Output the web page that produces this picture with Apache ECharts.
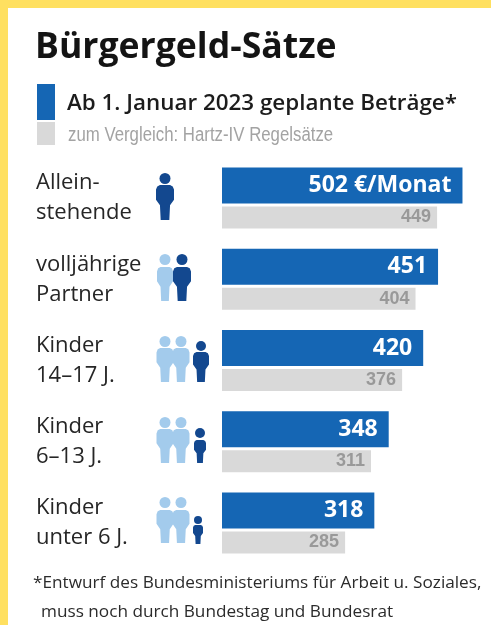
<!DOCTYPE html>
<html>
<head>
<meta charset="utf-8">
<style type="text/css">
    html,body{
        margin:0;
        padding:0;
        background:#fff;
    }
    #chart{
        width:491px;
        height:625px;
    }
</style>
<script src="https://cdn.jsdelivr.net/npm/echarts@6/dist/echarts.min.js"></script>
</head>
<body>
<div id="chart"></div>
<script type="text/javascript">
    var categories = ['Allein-\nstehende', 'volljährige\nPartner', 'Kinder\n14–17 J.', 'Kinder\n6–13 J.', 'Kinder\nunter 6 J.'];
    var newRates = [502, 451, 420, 348, 318];
    var oldRates = [449, 404, 376, 311, 285];
    // the source graphic draws its 285 bar shorter than the scale gives, so the length is kept apart from the label
    var oldBarLengths = [449, 404, 376, 311, 257];

    var FONT = '"Open Sans", "Noto Sans", sans-serif';
    var NARROW = '"Liberation Sans", sans-serif';
    var BLUE = '#1566b4', GREY = '#d9d9d9', LIGHT = '#a3cbec', DARK = '#13488f';
    // body outline in a 0..1 box: rounded shoulders, tapering to the feet
    var BODY = [[0.22,0],[0.78,0],[0.93,0.04],[1,0.13],[1,0.42],[0.78,0.58],[0.74,1],[0.26,1],[0.22,0.58],[0,0.42],[0,0.13],[0.07,0.04]];

    // one pictogram: head circle plus stretched body
    function person(cx, headTop, headH, bodyTop, bodyBottom, w, color){
        return [{
            type:'circle',
            shape:{cx:cx, cy:headTop + headH / 2, r:headH / 2},
            style:{fill:color}
        },{
            type:'polygon',
            shape:{points:BODY.map(function(p){
                return [cx - w / 2 + p[0] * w, bodyTop + p[1] * (bodyBottom - bodyTop)];
            })},
            style:{fill:color}
        }];
    }

    function text(x, y, str, font, color, scaleX){
        return {type:'text', x:x, y:y, scaleX:scaleX || 1, style:{text:str, font:font, fill:color, textVerticalAlign:'middle'}};
    }

    var icons = [].concat(
        person(165, 173, 11, 185, 220, 18, DARK),
        person(165, 254, 11, 267, 301, 16, LIGHT),
        person(182, 254, 11, 267, 301, 18, DARK),
        person(165, 336, 11, 348, 382, 17, LIGHT),
        person(181, 336, 11, 348, 382, 17, LIGHT),
        person(201, 341, 10, 352, 382, 16, DARK),
        person(165, 417, 11, 429, 463, 17, LIGHT),
        person(181, 417, 11, 429, 463, 17, LIGHT),
        person(200, 428, 10, 440, 463, 12, DARK),
        person(165, 497, 11, 510, 543, 17, LIGHT),
        person(181, 497, 11, 510, 543, 17, LIGHT),
        person(198, 516, 8, 525, 544, 10, DARK)
    );

    var chart = echarts.init(document.getElementById('chart'), null, {renderer:'canvas'});
    chart.setOption({
        animation:false,
        backgroundColor:'#fff',
        grid:{left:222, top:157.4, width:249.1, height:406.2},
        xAxis:{type:'value', min:0, max:520, show:false},
        yAxis:{
            type:'category',
            inverse:true,
            data:categories,
            axisLine:{show:false},
            axisTick:{show:false},
            axisLabel:{
                margin:186,
                align:'left',
                lineHeight:30,
                fontFamily:FONT,
                fontSize:22,
                color:'#262626'
            }
        },
        series:[{
            type:'bar',
            data:newRates,
            barWidth:36,
            barGap:'8.33%',
            itemStyle:{color:BLUE},
            label:{
                show:true,
                position:'insideRight',
                distance:11,
                fontFamily:FONT,
                fontWeight:'bold',
                fontSize:23,
                color:'#fff',
                formatter:function(p){
                    return p.dataIndex === 0 ? p.value + ' €/Monat' : p.value;
                }
            }
        },{
            type:'bar',
            data:oldBarLengths,
            barWidth:22,
            itemStyle:{color:GREY},
            label:{
                show:true,
                position:'insideRight',
                distance:6,
                fontFamily:NARROW,
                fontWeight:'bold',
                fontSize:18,
                color:'#999999',
                formatter:function(p){
                    return oldRates[p.dataIndex];
                }
            }
        }],
        graphic:[
            {type:'rect', shape:{x:0, y:0, width:491, height:8}, style:{fill:'#ffe060'}},
            {type:'rect', shape:{x:0, y:0, width:8, height:625}, style:{fill:'#ffe060'}},
            text(35, 48, 'Bürgergeld-Sätze', 'bold 35.6px ' + FONT, '#141414'),
            {type:'rect', shape:{x:37, y:84, width:18, height:36}, style:{fill:BLUE}},
            {type:'rect', shape:{x:37, y:122, width:18, height:23}, style:{fill:GREY}},
            text(67, 104, 'Ab 1. Januar 2023 geplante Beträge*', '600 22.4px ' + FONT, '#1c1c1c'),
            text(68, 135, 'zum Vergleich: Hartz-IV Regelsätze', '20px ' + NARROW, '#a3a3a3', 0.84),
            text(33, 583, '*Entwurf des Bundesministeriums für Arbeit u. Soziales,', '17.2px ' + FONT, '#2b2b2b'),
            text(41, 612, 'muss noch durch Bundestag und Bundesrat', '17.2px ' + FONT, '#2b2b2b')
        ].concat(icons)
    });
</script>
</body>
</html>
